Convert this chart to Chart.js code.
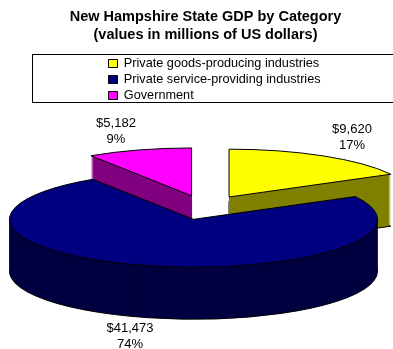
<!DOCTYPE html>
<html>
<head>
<meta charset="utf-8">
<title>New Hampshire State GDP by Category</title>
<script src="https://cdn.jsdelivr.net/npm/chart.js@4/dist/chart.umd.js"></script>
<style>
    html, body { margin: 0; padding: 0; background: #fff; }
    canvas { display: block; }
</style>
</head>
<body>
<canvas id="gdp-pie" width="393" height="349"></canvas>
<script>
    "use strict";

    // Data
    var categories = ["Private goods-producing industries", "Private service-providing industries", "Government"];
    var gdpValues = [9620, 41473, 5182];
    var titleLines = ["New Hampshire State GDP by Category", "(values in millions of US dollars)"];

    // Colours: top face and side wall of each slice
    var topColors = ["#ffff00", "#000080", "#ff00ff"];
    var sideColors = ["#808000", "#000040", "#800080"];

    // 3D look
    var pieCenter = { x: 205, y: 207.5 };
    var pieRadius = 184;
    var tilt = 0.26;
    var wallDepth = 52;
    var explode = 47;
    var labelCenters = [{ x: 352, y: 137 }, { x: 130, y: 336 }, { x: 116, y: 131 }];
    var legendFrame = { left: 32, top: 54, right: 393, bottom: 102 };

    var total = gdpValues.reduce(function (a, b) { return a + b; }, 0);

    // draws one slice squashed onto the tilted plane, dropped by "drop" pixels
    function drawSlice(ctx, arc, drop, overrides) {
        var mid = (arc.startAngle + arc.endAngle) / 2;
        var face = Object.create(arc, { options: { value: Object.assign({}, arc.options, overrides), writable: true } });
        ctx.save();
        ctx.translate(pieCenter.x + Math.cos(mid) * explode, pieCenter.y + Math.sin(mid) * explode * tilt + drop);
        ctx.scale(1, tilt);
        ctx.translate(-arc.x, -arc.y);
        // keep the outline an even width, not squashed with the fill
        ctx.stroke = function () {
            ctx.save();
            ctx.setTransform(1, 0, 0, 1, 0, 0);
            CanvasRenderingContext2D.prototype.stroke.call(ctx);
            ctx.restore();
        };
        face.draw(ctx);
        delete ctx.stroke;
        ctx.restore();
    }

    var pie3d = {
        id: "pie3d",
        afterLayout: function (chart) {
            // the list sits inside the frame; bottom is kept loose so it never wraps to a second column
            Object.assign(chart.legend, { left: 105.2, top: 53.85, right: 393, bottom: 130 });
        },
        beforeDatasetDraw: function () {
            return false;
        },
        afterDatasetsDraw: function (chart) {
            var ctx = chart.ctx;
            var arcs = chart.getDatasetMeta(0).data;

            // back slices first, the big front slice last
            [0, 2, 1].forEach(function (i) {
                drawSlice(ctx, arcs[i], wallDepth, { backgroundColor: sideColors[i] });
                for (var d = wallDepth - 1; d > 0; d--) {
                    drawSlice(ctx, arcs[i], d, { backgroundColor: sideColors[i], borderWidth: 0 });
                }
                drawSlice(ctx, arcs[i], 0, {});
            });

            // Data labels
            ctx.save();
            ctx.font = "13px 'Liberation Sans', Arial, sans-serif";
            ctx.fillStyle = "#000";
            ctx.textAlign = "center";
            ctx.textBaseline = "middle";
            gdpValues.forEach(function (v, i) {
                ctx.fillText("$" + v.toLocaleString("en-US"), labelCenters[i].x, labelCenters[i].y - 8);
                ctx.fillText(Math.round(v / total * 100) + "%", labelCenters[i].x, labelCenters[i].y + 8);
            });
            ctx.restore();
        },
        afterDraw: function (chart) {
            var ctx = chart.ctx;
            ctx.save();
            ctx.strokeStyle = "#000";
            ctx.lineWidth = 1;
            ctx.strokeRect(legendFrame.left + 0.5, legendFrame.top + 0.5,
                legendFrame.right - legendFrame.left, legendFrame.bottom - legendFrame.top);
            ctx.restore();
        }
    };

    var myPie = new Chart(document.getElementById("gdp-pie").getContext("2d"), {
        type: "pie",
        data: {
            labels: categories,
            datasets: [{
                data: gdpValues,
                backgroundColor: topColors,
                borderColor: "#000",
                borderWidth: 1
            }]
        },
        options: {
            responsive: false,
            animation: false,
            radius: pieRadius,
            layout: { padding: { left: 18 } },
            plugins: {
                title: {
                    display: true,
                    text: titleLines,
                    color: "#000",
                    font: { family: "'Liberation Sans', Arial, sans-serif", size: 14.5, weight: "bold", lineHeight: 1.24 },
                    padding: { top: 8.5, bottom: 0 }
                },
                legend: {
                    position: "right",
                    align: "start",
                    labels: {
                        color: "#000",
                        boxWidth: 9,
                        boxHeight: 8,
                        padding: 3.3,
                        font: { family: "'Liberation Sans', Arial, sans-serif", size: 12.7 },
                        generateLabels: function (chart) {
                            return Chart.overrides.pie.plugins.legend.labels.generateLabels(chart).map(function (item) {
                                item.lineJoin = "miter";
                                return item;
                            });
                        }
                    }
                },
                tooltip: { enabled: false }
            }
        },
        plugins: [pie3d]
    });
</script>
</body>
</html>
